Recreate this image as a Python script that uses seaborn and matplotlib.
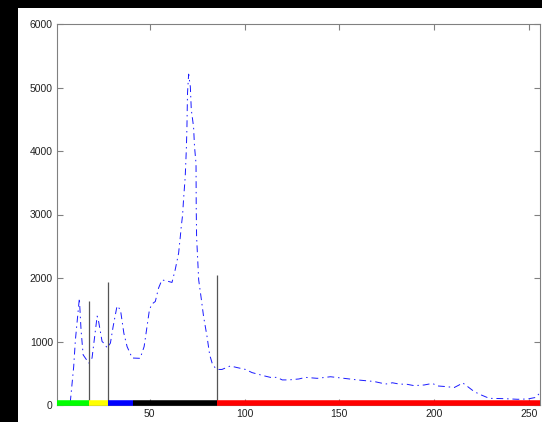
import matplotlib
matplotlib.use("Agg")
import matplotlib.pyplot as plt
import seaborn as sns
import pandas as pd
from matplotlib.patches import Rectangle

# ---- data ----
bins = [8, 9.8, 10.7, 12.8, 13.7, 14.8, 17.8, 19.5, 22.2, 23, 24.8, 25.7, 27.5,
        29.2, 30.6, 32.7, 34.5, 36.3, 38, 40.7, 44.9, 47, 48.5, 49.8, 51.1, 52.9,
        54.6, 56.4, 59.4, 61.7, 63.4, 65.2, 66.1, 66.6, 67.3, 67.8, 68.7, 69.3,
        69.6, 69.9, 70.5, 71.4, 71.9, 73.1, 73.6, 74.4, 74.5, 74.7, 75.8, 77,
        78.4, 80.2, 81.6, 82.9, 84.6, 86.3, 88.1, 92.5, 96, 100.5, 104, 110.2,
        113.7, 117.2, 119.9, 123.4, 128.7, 132.2, 138.4, 145.4, 152.5, 159.6,
        168.4, 174.5, 178.1, 181.6, 186, 189.5, 194.8, 199.2, 201.9, 206.3,
        210.7, 213.3, 215.1, 217.8, 221.3, 224.8, 229.2, 237.1, 244.2, 249.5,
        253.9, 255.7]
counts = [40, 600, 1020, 1680, 1180, 790, 660, 740, 1400, 1310, 1000, 975, 900,
          975, 1230, 1560, 1500, 1130, 920, 740, 735, 920, 1230, 1500, 1590, 1630,
          1840, 1970, 1950, 1930, 2130, 2390, 2650, 2810, 2990, 3230, 3600, 4040,
          4380, 4910, 5210, 5010, 4650, 4380, 4070, 3800, 3120, 2650, 1970, 1710,
          1390, 1080, 790, 660, 580, 560, 560, 615, 590, 560, 510, 460,
          435, 435, 395, 395, 410, 435, 420, 445, 420, 395,
          370, 330, 350, 330, 325, 305, 315, 340, 300, 290,
          275, 315, 350, 290, 210, 160, 105, 100, 90, 95,
          120, 185]

# colour band along the x axis
band_edges = [1, 18, 28, 41, 85.5, 256]
band_colors = ["#00ff00", "#ffff00", "#0000ff", "#000000", "#ff0000"]

# threshold markers
thresh_x = [18, 28, 85.5]
thresh_h = [1630, 1930, 2040]

x_ticks = [50, 100, 150, 200, 250]
y_ticks = [0, 1000, 2000, 3000, 4000, 5000, 6000]

# ---- figure ----
sns.set_style("white")
plt.rcParams['font.family'] = ['Liberation Sans', 'DejaVu Sans']

fig = plt.figure(figsize=(5.42, 4.22), dpi=100, facecolor="white")
# black frame strips on the left and top
fig.patches.append(Rectangle((0, 0), 18 / 542, 1, transform=fig.transFigure,
                             facecolor="black", edgecolor="none", zorder=-5))
fig.patches.append(Rectangle((0, 414 / 422), 1, 8 / 422, transform=fig.transFigure,
                             facecolor="black", edgecolor="none", zorder=-5))
ax = fig.add_axes([57 / 542, 17 / 422, 483 / 542, 381 / 422])
ax.set_facecolor("white")

df = pd.DataFrame({"bin": bins, "count": counts})
sns.lineplot(data=df, x="bin", y="count", ax=ax, color="#1a1aff",
             linewidth=0.7, estimator=None, sort=False)
ax.lines[-1].set_linestyle((0, (7, 4, 1.5, 4)))

for xv, hv in zip(thresh_x, thresh_h):
    ax.vlines(xv, 0, hv, color="#555555", linewidth=0.9, zorder=3)

for i, c in enumerate(band_colors):
    ax.plot([band_edges[i], band_edges[i + 1]], [25, 25], color=c,
            linewidth=4, solid_capstyle="butt", clip_on=False, zorder=4)

ax.set_xlim(1, 256)
ax.set_ylim(0, 6000)
ax.set_xticks(x_ticks)
ax.set_yticks(y_ticks)
ax.set_xlabel("")
ax.set_ylabel("")
for s in ax.spines.values():
    s.set_color("#808080")
    s.set_linewidth(0.8)
ax.tick_params(direction="in", length=4, width=0.8, color="#808080",
               labelsize=7.5, labelcolor="#222222", top=True, right=True,
               bottom=True, left=True, pad=3)

fig.savefig("out.png", dpi=100, facecolor="white")
